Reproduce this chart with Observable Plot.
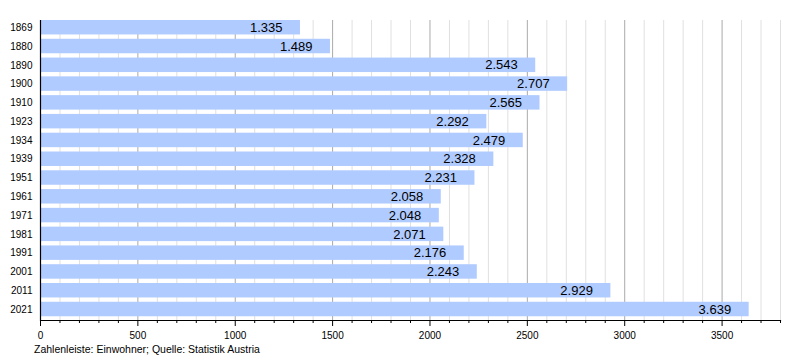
<!DOCTYPE html>
<html>
<head>
<meta charset="utf-8">
<script src="https://cdn.jsdelivr.net/npm/d3@7"></script>
<script src="https://cdn.jsdelivr.net/npm/@observablehq/plot@0.6"></script>
<style>
  html, body { margin: 0; padding: 0; background: #fff; }
  body { width: 800px; height: 360px; overflow: hidden; font-family: "Liberation Sans", Arial, sans-serif; }
  #caption { font-size: 10.5px; color: #000; margin-left: 34px; margin-top: 3px; line-height: 12px; }
</style>
</head>
<body>
<div id="chart"></div>
<div id="caption">Zahlenleiste: Einwohner; Quelle: Statistik Austria</div>
<script>
const years = ["1869","1880","1890","1900","1910","1923","1934","1939","1951","1961","1971","1981","1991","2001","2011","2021"];
const population = [1335,1489,2543,2707,2565,2292,2479,2328,2231,2058,2048,2071,2176,2243,2929,3639];
const majorTicks = [0,500,1000,1500,2000,2500,3000,3500];
const minorTicks = d3.range(100, 3801, 100).filter(v => v % 500 !== 0);

const data = years.map((y, i) => ({year: y, value: population[i]}));
const fmt = v => d3.format(",")(v).replace(/,/g, ".");

const chart = Plot.plot({
  width: 800,
  height: 340,
  marginLeft: 40,
  marginRight: 20,
  marginTop: 20,
  marginBottom: 20,
  style: {fontFamily: "Liberation Sans, Arial, sans-serif", fontSize: "10px", color: "#000", background: "#fff"},
  x: {domain: [0, 3800], axis: null, label: null},
  y: {domain: years, paddingInner: 0.23, paddingOuter: 0.1, align: 0, round: false, axis: null, label: null},
  marks: [
    Plot.ruleX(minorTicks, {stroke: "#e0e0e0", strokeWidth: 1}),
    Plot.ruleX(majorTicks, {stroke: "#aaaaaa", strokeWidth: 1}),
    Plot.barX(data, {x: "value", y: "year", fill: "#b0cbff"}),
    Plot.text(data, {x: "value", y: "year", text: d => fmt(d.value), textAnchor: "end", dx: -18, fontSize: 13, fill: "#000"}),
    Plot.axisY({tickSize: 0, tickPadding: 8, fontSize: 10, anchor: "left", label: null}),
    Plot.axisX(minorTicks, {tickSize: 3, tickFormat: () => "", stroke: "#000", label: null}),
    Plot.axisX(majorTicks, {tickSize: 6, tickPadding: 5, tickFormat: d => String(d), fontSize: 10, stroke: "#000", label: null}),
    Plot.ruleX([0], {stroke: "#000", strokeWidth: 1.2}),
    Plot.frame({anchor: "bottom", stroke: "#000", strokeWidth: 1.2})
  ]
});
document.getElementById("chart").appendChild(chart);
</script>
</body>
</html>
